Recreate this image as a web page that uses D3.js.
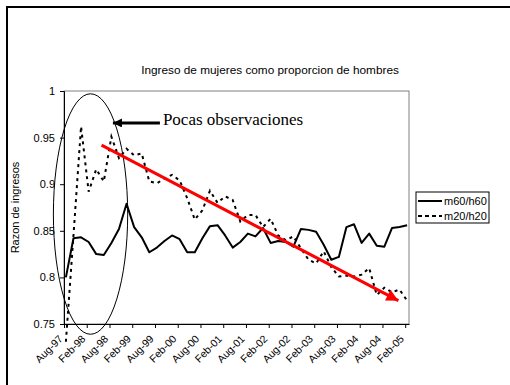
<!DOCTYPE html>
<html>
<head>
<meta charset="utf-8">
<script src="https://cdn.jsdelivr.net/npm/d3@7"></script>
<style>
  html, body { margin: 0; padding: 0; background: #fff; }
  svg { display: block; font-family: "Liberation Sans", Arial, sans-serif; }
</style>
</head>
<body>
<svg id="chart" width="510" height="385"></svg>
<script>
// Bimonthly observations, Aug-97 .. Feb-05
const periods = [
  "Aug-97","Oct-97","Dec-97","Feb-98","Apr-98","Jun-98","Aug-98","Oct-98","Dec-98",
  "Feb-99","Apr-99","Jun-99","Aug-99","Oct-99","Dec-99","Feb-00","Apr-00","Jun-00",
  "Aug-00","Oct-00","Dec-00","Feb-01","Apr-01","Jun-01","Aug-01","Oct-01","Dec-01",
  "Feb-02","Apr-02","Jun-02","Aug-02","Oct-02","Dec-02","Feb-03","Apr-03","Jun-03",
  "Aug-03","Oct-03","Dec-03","Feb-04","Apr-04","Jun-04","Aug-04","Oct-04","Dec-04","Feb-05"
];

const m60h60 = [
  0.800,0.842,0.843,0.838,0.825,0.824,0.837,0.852,0.879,
  0.854,0.843,0.827,0.832,0.839,0.845,0.841,0.827,0.827,
  0.842,0.855,0.856,0.845,0.832,0.838,0.847,0.844,0.853,
  0.837,0.839,0.838,0.833,0.852,0.851,0.849,0.835,0.819,
  0.822,0.854,0.857,0.837,0.847,0.834,0.833,0.853,0.854,0.856
];

const m20h20 = [
  0.731,0.845,0.962,0.892,0.916,0.903,0.951,0.928,0.938,
  0.931,0.933,0.903,0.901,0.906,0.910,0.904,0.885,0.862,
  0.872,0.893,0.880,0.887,0.883,0.860,0.867,0.867,0.854,
  0.863,0.845,0.840,0.844,0.831,0.819,0.815,0.828,0.811,
  0.801,0.802,0.801,0.803,0.810,0.781,0.789,0.784,0.787,0.775
];

const seriesNames = ["m60/h60", "m20/h20"];

// Axis labels
const xTickLabels = ["Aug-97","Feb-98","Aug-98","Feb-99","Aug-99","Feb-00","Aug-00","Feb-01",
                     "Aug-01","Feb-02","Aug-02","Feb-03","Aug-03","Feb-04","Aug-04","Feb-05"];
const yTicks = [0.75, 0.8, 0.85, 0.9, 0.95, 1];
const yTickLabels = ["0.75", "0.8", "0.85", "0.9", "0.95", "1"];

// Trend arrow (month offset from Aug-97, ratio)
const trend = [[9.4, 0.942], [87.7, 0.775]];

const parse = d3.timeParse("%b-%y");
const start = parse(periods[0]);
const monthOf = s => d3.timeMonth.count(start, parse(s));
const nMonths = monthOf(periods[periods.length - 1]) + 1;

const svg = d3.select("#chart");
const plot = { left: 64, right: 409, top: 91, bottom: 324 };

const x = d3.scaleLinear().domain([-0.5, nMonths - 0.5]).range([plot.left, plot.right]);
const y = d3.scaleLinear().domain([0.75, 1]).range([plot.bottom, plot.top]);

// Outer frame
svg.append("rect").attr("x", 7).attr("y", 7).attr("width", 520).attr("height", 400)
  .attr("fill", "none").attr("stroke", "#000").attr("stroke-width", 2);

// Title
svg.append("text").attr("x", 270).attr("y", 74).attr("text-anchor", "middle")
  .attr("font-size", 11.8)
  .text("Ingreso de mujeres como proporcion de hombres");

// Plot area border
svg.append("rect").attr("x", plot.left).attr("y", plot.top)
  .attr("width", plot.right - plot.left).attr("height", plot.bottom - plot.top)
  .attr("fill", "none").attr("stroke", "#808080").attr("stroke-width", 1);

// Y axis
const yAxis = d3.axisLeft(y).tickValues(yTicks).tickSize(4).tickPadding(5)
  .tickFormat((d, i) => yTickLabels[i]);
const gy = svg.append("g").attr("transform", `translate(${plot.left},0)`).call(yAxis);
gy.select(".domain").attr("stroke", "#000");
gy.selectAll("text").attr("font-size", 11).attr("font-family", "Liberation Sans, Arial, sans-serif").attr("fill", "#000");

// X axis: tick marks at category boundaries every 6 months
const xTickVals = xTickLabels.map((d, i) => i * 6 - 0.5);
const xAxis = d3.axisBottom(x).tickValues(xTickVals).tickSize(4).tickSizeOuter(0).tickFormat("");
const gx = svg.append("g").attr("transform", `translate(0,${plot.bottom})`).call(xAxis);
gx.select(".domain").attr("stroke", "#000");

// X labels (rotated)
svg.append("g").selectAll("text").data(xTickLabels).join("text")
  .attr("transform", (d, i) => `translate(${x(i * 6) - 5},${plot.bottom + 13}) rotate(-45)`)
  .attr("text-anchor", "end").attr("dy", "0.35em")
  .attr("font-size", 10.5)
  .text(d => d);

// Y axis title
svg.append("text").attr("transform", `translate(19,${(plot.top + plot.bottom) / 2}) rotate(-90)`)
  .attr("text-anchor", "middle").attr("font-size", 11).text("Razon de ingresos");

// Series lines
const line = d3.line().x((d, i) => x(monthOf(periods[i]))).y(d => y(d));
svg.append("path").datum(m60h60).attr("d", line)
  .attr("fill", "none").attr("stroke", "#000").attr("stroke-width", 2).attr("stroke-linejoin", "round");
svg.append("path").datum(m20h20).attr("d", line)
  .attr("fill", "none").attr("stroke", "#000").attr("stroke-width", 2).attr("stroke-dasharray", "3,4");

// Ellipse marking the early period
const ecx = 6.5, ecy = 0.868;
svg.append("ellipse")
  .attr("cx", x(ecx)).attr("cy", y(ecy))
  .attr("rx", x(ecx + 9.8) - x(ecx)).attr("ry", y(ecy - 0.129) - y(ecy))
  .attr("fill", "none").attr("stroke", "#000").attr("stroke-width", 1);

// Markers
const defs = svg.append("defs");
defs.append("marker").attr("id", "redhead").attr("viewBox", "0 0 10 10")
  .attr("refX", 10).attr("refY", 5).attr("markerWidth", 4.5).attr("markerHeight", 4)
  .attr("markerUnits", "strokeWidth").attr("orient", "auto")
  .append("path").attr("d", "M0,0 L10,5 L0,10 Z").attr("fill", "#ff0000");
defs.append("marker").attr("id", "blackhead").attr("viewBox", "0 0 10 10")
  .attr("refX", 10).attr("refY", 5).attr("markerWidth", 3).attr("markerHeight", 3)
  .attr("markerUnits", "strokeWidth").attr("orient", "auto")
  .append("path").attr("d", "M0,0 L10,5 L0,10 Z").attr("fill", "#000");

// Red trend arrow
svg.append("line")
  .attr("x1", x(trend[0][0])).attr("y1", y(trend[0][1]))
  .attr("x2", x(trend[1][0])).attr("y2", y(trend[1][1]))
  .attr("stroke", "#ff0000").attr("stroke-width", 3).attr("marker-end", "url(#redhead)");

// Callout arrow and note
const noteY = 0.9657;
svg.append("line")
  .attr("x1", x(24.8)).attr("y1", y(noteY)).attr("x2", x(12.4)).attr("y2", y(noteY))
  .attr("stroke", "#000").attr("stroke-width", 3).attr("marker-end", "url(#blackhead)");
svg.append("text").attr("x", x(24.8) + 3).attr("y", y(noteY) + 2)
  .attr("font-family", "Liberation Serif, Times New Roman, serif").attr("font-size", 17)
  .text("Pocas observaciones");

// Legend
const lg = svg.append("g").attr("transform", "translate(416,192)");
lg.append("rect").attr("width", 73).attr("height", 31)
  .attr("fill", "#fff").attr("stroke", "#000").attr("stroke-width", 1);
seriesNames.forEach((name, i) => {
  const yy = 9 + i * 15;
  lg.append("line").attr("x1", 2).attr("x2", 26).attr("y1", yy).attr("y2", yy)
    .attr("stroke", "#000").attr("stroke-width", 2)
    .attr("stroke-dasharray", i === 1 ? "4,3" : null);
  lg.append("text").attr("x", 28).attr("y", yy).attr("dy", "0.35em")
    .attr("font-size", 11).text(name);
});
</script>
</body>
</html>
